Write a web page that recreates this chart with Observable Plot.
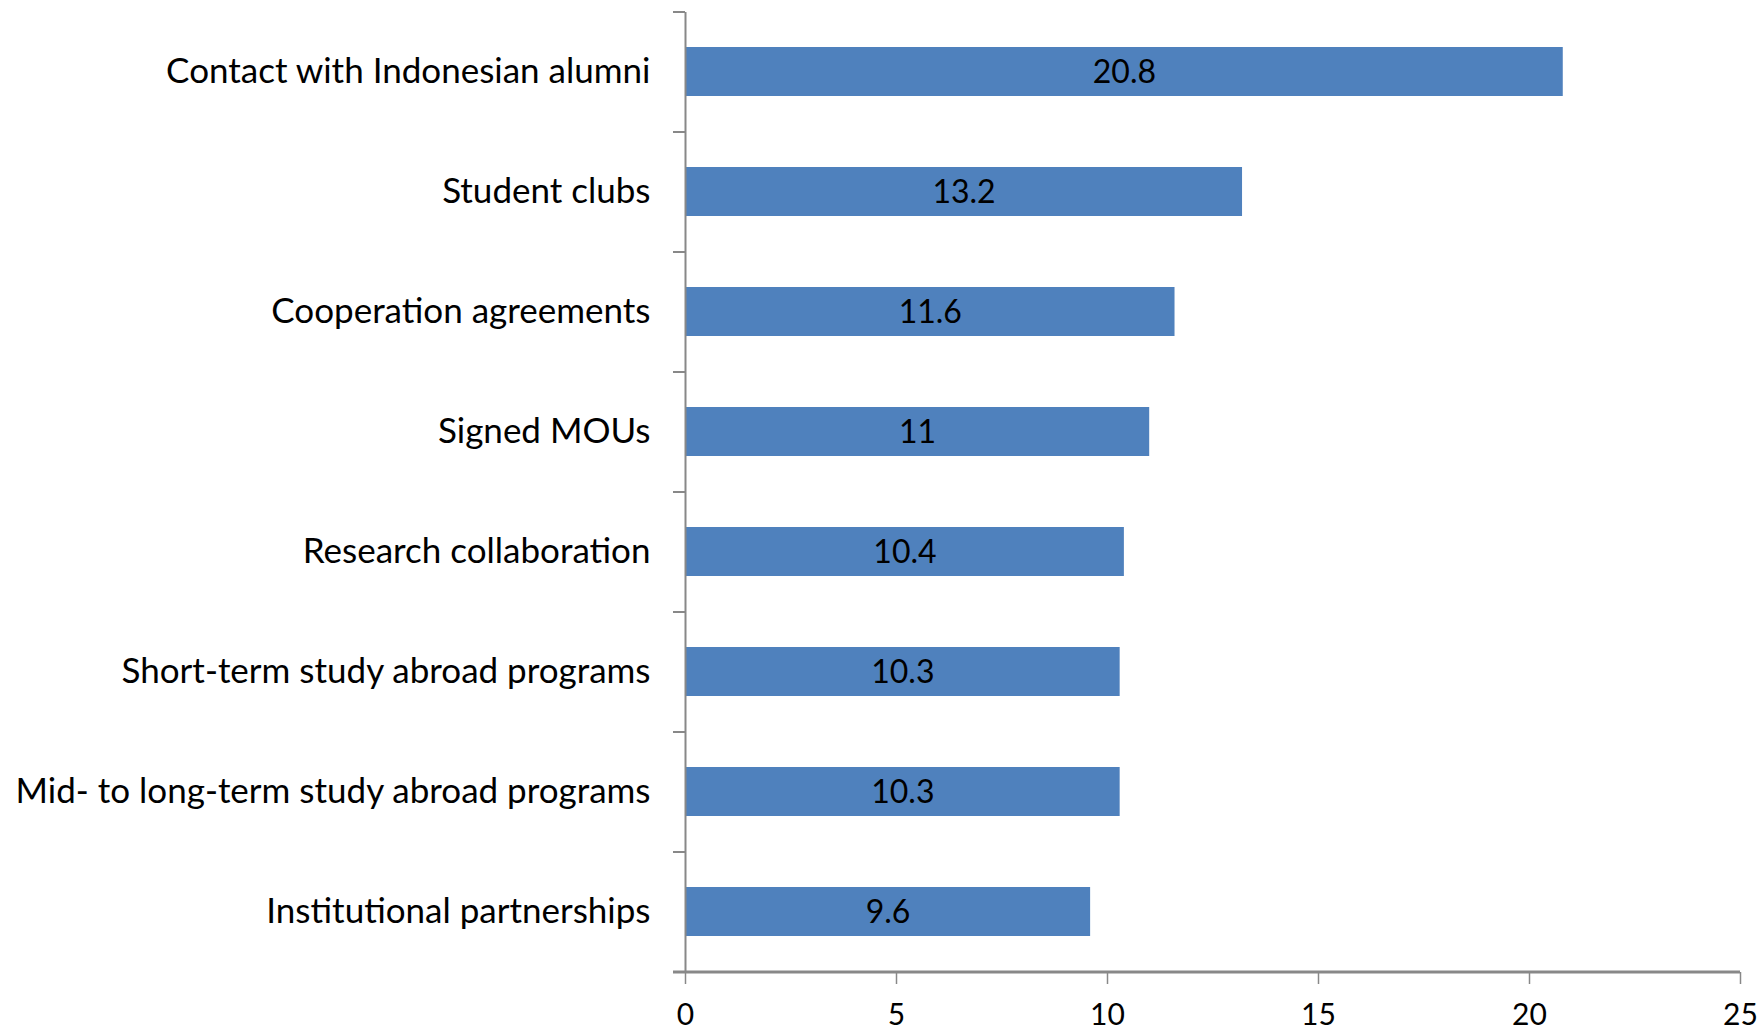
<!DOCTYPE html>
<html>
<head>
<meta charset="utf-8">
<script src="https://cdn.jsdelivr.net/npm/d3@7"></script>
<script src="https://cdn.jsdelivr.net/npm/@observablehq/plot@0.6"></script>
<style>
  html, body { margin: 0; padding: 0; background: #fff; }
  svg { display: block; }
</style>
</head>
<body>
<div id="chart"></div>
<script>
const categories = [
  "Contact with Indonesian alumni",
  "Student clubs",
  "Cooperation agreements",
  "Signed MOUs",
  "Research collaboration",
  "Short-term study abroad programs",
  "Mid- to long-term study abroad programs",
  "Institutional partnerships"
];
const values = [20.8, 13.2, 11.6, 11, 10.4, 10.3, 10.3, 9.6];
const xTicks = [0, 5, 10, 15, 20, 25];

const data = categories.map((c, i) => ({category: c, value: values[i]}));

const W = 1762, H = 1036;
const mTop = 12, mBottom = 64, mLeft = 685, mRight = 22;
const step = (H - mTop - mBottom) / categories.length;
const tickLen = 12 * 25 / (W - mLeft - mRight); // 12px expressed in x units
const axisColor = "#888888";
const font = "Lato, 'Open Sans', sans-serif";

const chart = Plot.plot({
  width: W,
  height: H,
  marginTop: mTop,
  marginBottom: mBottom,
  marginLeft: mLeft,
  marginRight: mRight,
  style: {fontFamily: font, fontSize: "32px", color: "#000", background: "#fff"},
  x: {domain: [0, 25], ticks: xTicks},
  y: {domain: categories, paddingInner: 0.59, paddingOuter: 0.295, align: 0.5},
  marks: [
    Plot.barX(data, {x: "value", y: "category", fill: "#4F81BD"}),
    Plot.text(data, {
      x: d => d.value / 2, y: "category", text: d => String(d.value),
      fill: "#000", fontSize: 32, fontFamily: font, dy: 1
    }),
    // y axis line
    Plot.ruleX([0], {stroke: axisColor, strokeWidth: 2}),
    // band boundary ticks on the y axis
    Plot.ruleY(categories, {y: d => d, x1: -tickLen, x2: 0, dy: -step / 2, stroke: axisColor, strokeWidth: 2}),
    Plot.ruleY([categories[categories.length - 1]], {y: d => d, x1: -tickLen, x2: 25, dy: step / 2, stroke: axisColor, strokeWidth: 3}),
    Plot.axisY({tickSize: 0, tickPadding: 35, fontSize: 35, fontFamily: font, label: null, fill: "#000"}),
    Plot.axisX({ticks: xTicks, tickSize: 12, tickPadding: 19, fontSize: 30, fontFamily: font, label: null, stroke: axisColor, strokeWidth: 1.5, fill: "#000"})
  ]
});
document.getElementById("chart").appendChild(chart);
</script>
</body>
</html>
